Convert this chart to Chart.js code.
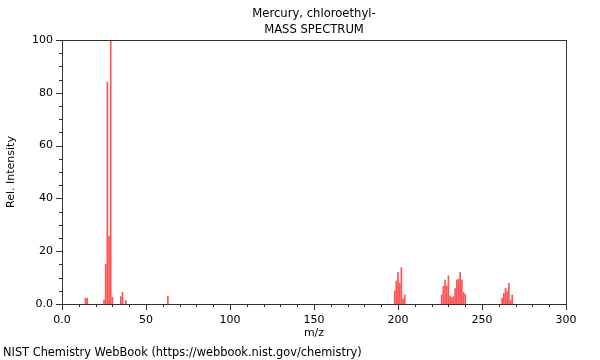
<!DOCTYPE html>
<html>
<head>
<meta charset="utf-8">
<script src="https://cdn.jsdelivr.net/npm/chart.js@4"></script>
<style>
  body { margin: 0; background: #fff; }
  canvas { display: block; }
</style>
</head>
<body>
<canvas id="ms" width="600" height="360"></canvas>
<script>
// ================= Data =================
const titleLines = ['Mercury, chloroethyl-', 'MASS SPECTRUM'];
const footerText = 'NIST Chemistry WebBook (https://webbook.nist.gov/chemistry)';
const xLabel = 'm/z';
const yLabel = 'Rel. Intensity';

const mz = [14, 15, 25, 26, 27, 28, 29, 30, 35, 36, 38, 63,
    198, 199, 200, 201, 202, 203, 204,
    226, 227, 228, 229, 230, 231, 232, 233, 234, 235, 236, 237, 238, 239, 240,
    262, 263, 264, 265, 266, 267, 268];
const intensity = [2.2, 2.2, 1.5, 15, 84, 25.7, 100, 2.6, 2.8, 4.5, 1.3, 3.0,
    4.9, 8.7, 12, 7.8, 13.8, 1.9, 3.4,
    3.4, 6.7, 9.1, 6.8, 10.7, 3.0, 2.4, 2.8, 5.8, 9.1, 9.4, 12, 9.1, 4.4, 3.7,
    2.2, 4.0, 5.9, 4.7, 7.8, 1.3, 3.4];

const xTicks = [0, 50, 100, 150, 200, 250, 300];
const yTicks = [0, 20, 40, 60, 80, 100];

const FONT = '"DejaVu Sans", sans-serif';

function fmtTick(v) {
    return v === 0 ? '0.0' : String(v);
}

// ================= Frame, minor ticks, titles =================
const framePlugin = {
    id: 'frame',
    afterDraw(chart) {
        const { ctx, chartArea: a, scales: { x, y } } = chart;
        ctx.save();
        ctx.strokeStyle = '#333';
        ctx.lineWidth = 1;
        ctx.strokeRect(Math.round(a.left) + 0.5, Math.round(a.top) + 0.5,
            Math.round(a.right - a.left), Math.round(a.bottom - a.top));

        ctx.beginPath();
        for (let v = 0; v <= 300; v += 10) {
            const px = Math.round(x.getPixelForValue(v)) + 0.5;
            const len = xTicks.includes(v) ? 6 : 3;
            ctx.moveTo(px, Math.round(a.bottom));
            ctx.lineTo(px, Math.round(a.bottom) + len);
        }
        for (let v = 0; v <= 100; v += 5) {
            const py = Math.round(y.getPixelForValue(v)) + 0.5;
            const len = yTicks.includes(v) ? 6 : 3;
            ctx.moveTo(Math.round(a.left), py);
            ctx.lineTo(Math.round(a.left) - len, py);
        }
        ctx.stroke();

        ctx.fillStyle = '#000';
        ctx.font = '11.6px ' + FONT;
        ctx.textAlign = 'center';
        ctx.textBaseline = 'middle';
        const cx = (a.left + a.right) / 2;
        ctx.fillText(titleLines[0], cx, 14);
        ctx.fillText(titleLines[1], cx, 30);

        ctx.font = '11.4px ' + FONT;
        ctx.textAlign = 'left';
        ctx.fillText(footerText, 3, 353);
        ctx.restore();
    }
};

// ================= Chart =================
const ctx = document.getElementById('ms').getContext('2d');
new Chart(ctx, {
    type: 'bar',
    data: {
        datasets: [{
            data: mz.map((m, i) => ({ x: m, y: intensity[i] })),
            backgroundColor: 'rgba(255, 40, 40, 0.8)',
            borderWidth: 0,
            barThickness: 1,
            grouped: false
        }]
    },
    options: {
        responsive: false,
        animation: false,
        layout: { padding: { top: 40, right: 34, bottom: 0, left: 0 } },
        plugins: {
            legend: { display: false },
            tooltip: { enabled: false },
            title: { display: false }
        },
        scales: {
            x: {
                type: 'linear',
                min: 0,
                max: 300,
                offset: false,
                grid: { display: false, drawTicks: false, offset: false },
                border: { display: false },
                ticks: {
                    stepSize: 50,
                    autoSkip: false,
                    maxRotation: 0,
                    padding: 10,
                    color: '#000',
                    font: { family: FONT, size: 11 },
                    callback: fmtTick
                },
                title: {
                    display: true,
                    text: xLabel,
                    color: '#000',
                    font: { family: FONT, size: 11 },
                    padding: { top: 0, bottom: 20 }
                },
                afterFit(scale) { scale.height = 56; }
            },
            y: {
                min: 0,
                max: 100,
                grid: { display: false, drawTicks: false },
                border: { display: false },
                ticks: {
                    stepSize: 20,
                    padding: 9,
                    color: '#000',
                    font: { family: FONT, size: 11 },
                    callback: fmtTick
                },
                title: {
                    display: true,
                    text: yLabel,
                    color: '#000',
                    font: { family: FONT, size: 11 },
                    padding: { top: 5, bottom: 0 }
                },
                afterFit(scale) { scale.width = 62; }
            }
        }
    },
    plugins: [framePlugin]
});
</script>
</body>
</html>
